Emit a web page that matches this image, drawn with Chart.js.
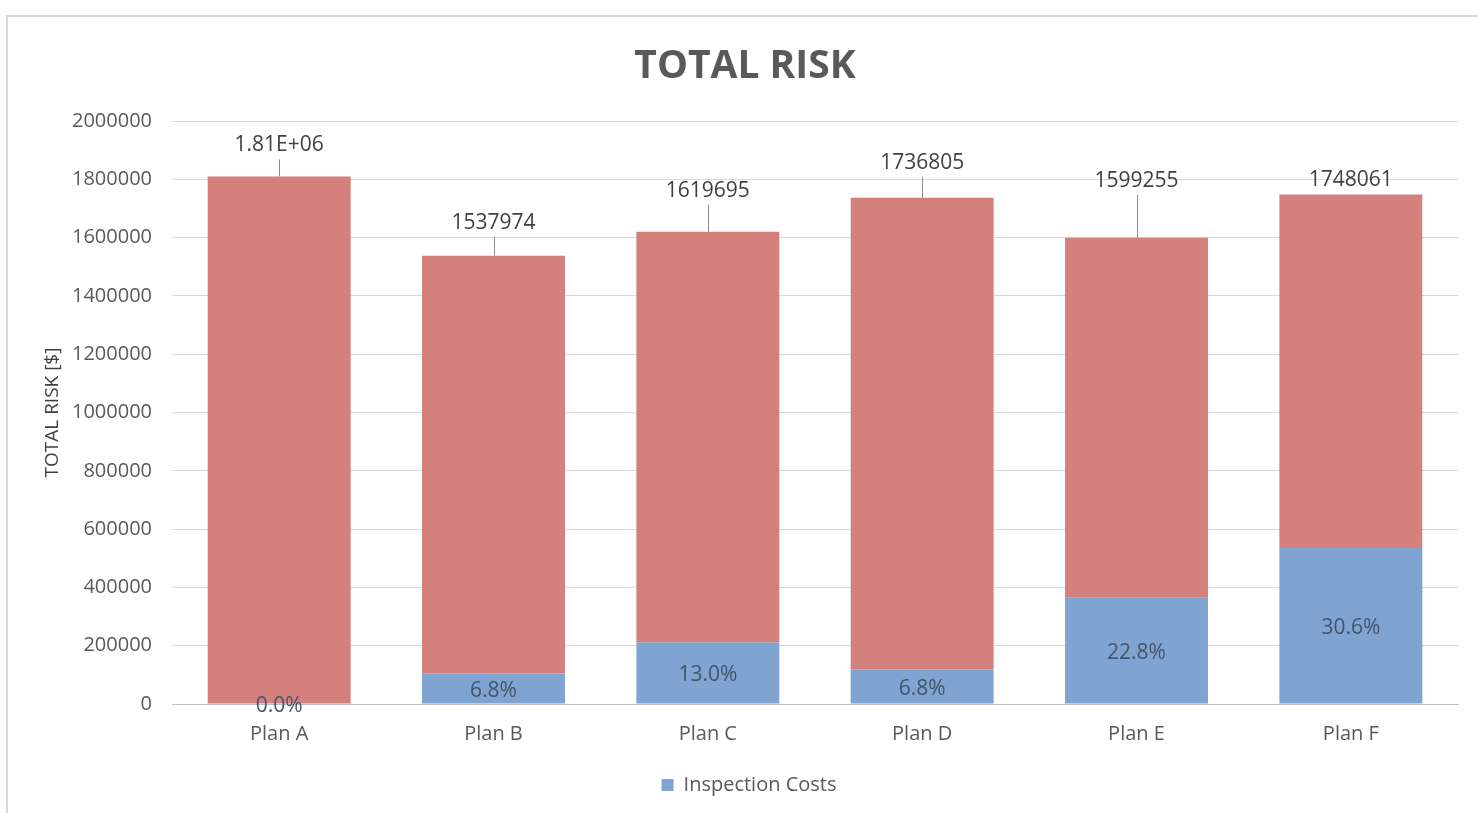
<!DOCTYPE html>
<html>
<head>
<meta charset="utf-8">
<script src="https://cdn.jsdelivr.net/npm/chart.js@4.4.1/dist/chart.umd.min.js"></script>
<style>
  html, body { margin: 0; padding: 0; background: #ffffff; }
  #wrap { width: 1478px; height: 813px; }
</style>
</head>
<body>
<div id="wrap"><canvas id="riskChart" width="1478" height="813"></canvas></div>
<script>
// Plans compared
const plans = ['Plan A', 'Plan B', 'Plan C', 'Plan D', 'Plan E', 'Plan F'];
// Total risk per plan [$]
const totalRisk = [1810000, 1537974, 1619695, 1736805, 1599255, 1748061];
// Inspection cost share of each total [$]
const inspectionCosts = [0, 104582, 210560, 118103, 364630, 534907];
// Text printed above each bar
const totalLabels = ['1.81E+06', '1537974', '1619695', '1736805', '1599255', '1748061'];
// Share of inspection costs printed inside the blue segment
const shareLabels = ['0.0%', '6.8%', '13.0%', '6.8%', '22.8%', '30.6%'];
// Y axis ticks
const yTicks = [0, 200000, 400000, 600000, 800000, 1000000, 1200000, 1400000, 1600000, 1800000, 2000000];
const chartTitle = 'TOTAL RISK';

// Remaining (non-inspection) part of each total
const otherRisk = totalRisk.map((t, i) => t - inspectionCosts[i]);

// Distance (px) between each total label and its bar top
const labelLift = [31, 33, 41, 35, 57, 14];

const BLUE = '#7fa4d1';
const RED = '#d4807c';
const FONT = '"Open Sans", "Noto Sans", sans-serif';

// White background, light frame and the bold heading
const framePlugin = {
  id: 'frame',
  beforeDraw(chart) {
    const ctx = chart.ctx;
    ctx.save();
    ctx.fillStyle = '#ffffff';
    ctx.fillRect(0, 0, chart.width, chart.height);
    ctx.strokeStyle = '#d9d9d9';
    ctx.lineWidth = 2;
    ctx.strokeRect(7, 16, chart.width + 20, chart.height + 20);
    ctx.fillStyle = '#595959';
    ctx.font = 'bold 39px ' + FONT;
    ctx.textAlign = 'center';
    ctx.textBaseline = 'middle';
    ctx.fillText(chartTitle, 745, 67);
    ctx.restore();
  }
};

const labelPlugin = {
  id: 'barLabels',
  afterDatasetsDraw(chart) {
    const ctx = chart.ctx;
    const blueMeta = chart.getDatasetMeta(0);
    const redMeta = chart.getDatasetMeta(1);
    const yScale = chart.scales.y;
    ctx.save();
    ctx.font = '21px ' + FONT;
    ctx.textAlign = 'center';
    ctx.textBaseline = 'middle';
    plans.forEach((p, i) => {
      // share label centred in the inspection segment
      const bEl = blueMeta.data[i];
      const yTop = yScale.getPixelForValue(inspectionCosts[i]);
      const yBase = yScale.getPixelForValue(0);
      ctx.fillStyle = '#44546a';
      ctx.fillText(shareLabels[i], bEl.x, (yTop + yBase) / 2 + 2);

      // total label above the stack, with a leader line
      const rEl = redMeta.data[i];
      const top = yScale.getPixelForValue(totalRisk[i]);
      const ly = top - labelLift[i];
      ctx.fillStyle = '#404040';
      ctx.fillText(totalLabels[i], rEl.x, ly);
      if (labelLift[i] > 22) {
        ctx.strokeStyle = '#8c8c8c';
        ctx.lineWidth = 1;
        ctx.beginPath();
        ctx.moveTo(Math.round(rEl.x) + 0.5, ly + 14);
        ctx.lineTo(Math.round(rEl.x) + 0.5, top);
        ctx.stroke();
      }
    });
    ctx.restore();
  }
};

new Chart(document.getElementById('riskChart'), {
  type: 'bar',
  data: {
    labels: plans,
    datasets: [
      { label: 'Inspection Costs', data: inspectionCosts, backgroundColor: BLUE, stack: 'risk' },
      { label: 'Risk', data: otherRisk, backgroundColor: RED, stack: 'risk' }
    ]
  },
  options: {
    responsive: false,
    animation: false,
    devicePixelRatio: 1,
    layout: { padding: { left: 40, right: 20, top: 121, bottom: 8 } },
    datasets: { bar: { barPercentage: 0.667, categoryPercentage: 1.0 } },
    plugins: {
      title: { display: false },
      legend: {
        position: 'bottom',
        labels: {
          filter: item => item.datasetIndex === 0,
          color: '#595959',
          font: { family: FONT, size: 20 },
          boxWidth: 12,
          boxHeight: 12,
          padding: 14
        }
      },
      tooltip: { enabled: false }
    },
    scales: {
      x: {
        stacked: true,
        grid: { display: false, drawTicks: false },
        border: { display: true, color: '#bfbfbf', width: 1 },
        ticks: { color: '#595959', font: { family: FONT, size: 20 }, padding: 18 },
        afterFit(scale) { scale.height = 57; }
      },
      y: {
        stacked: true,
        min: 0,
        max: 2000000,
        afterBuildTicks(scale) { scale.ticks = yTicks.map(v => ({ value: v })); },
        ticks: {
          color: '#595959',
          font: { family: FONT, size: 20 },
          padding: 20,
          callback: v => String(v)
        },
        grid: { color: '#d9d9d9', drawTicks: false },
        border: { display: false },
        title: {
          display: true,
          text: 'TOTAL RISK [$]',
          color: '#404040',
          font: { family: FONT, size: 19 },
          padding: { top: 1, bottom: 0 }
        },
        afterFit(scale) { scale.width = 132; }
      }
    }
  },
  plugins: [framePlugin, labelPlugin]
});
</script>
</body>
</html>
